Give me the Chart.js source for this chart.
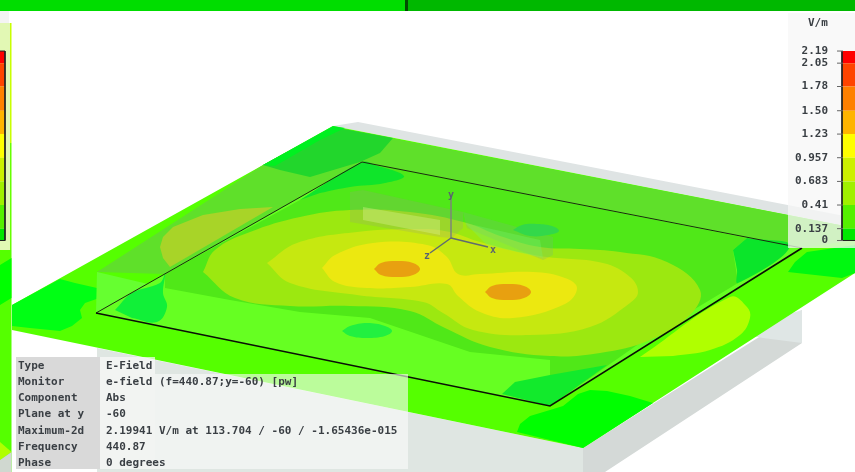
<!DOCTYPE html>
<html>
<head>
<meta charset="utf-8">
<title>E-Field</title>
<script src="https://cdn.jsdelivr.net/npm/chart.js@4"></script>
<style>
  html, body { margin: 0; padding: 0; background: #fff; overflow: hidden; }
  canvas { display: block; filter: blur(0.35px); }
</style>
</head>
<body>
<canvas id="field" width="855" height="472"></canvas>
<script>
// Legend scale (V/m)
const legendValues = [2.19, 2.05, 1.78, 1.50, 1.23, 0.957, 0.683, 0.41, 0.137, 0];
const legendLabels = ['2.19', '2.05', '1.78', '1.50', '1.23', '0.957', '0.683', '0.41', '0.137', '0'];
const legendColors = ['#ff0000', '#ff4400', '#ff8000', '#ffb400', '#ffff00', '#ccf000', '#a0f000', '#55f000', '#00e800'];

// Info table
const infoNames = ['Type', 'Monitor', 'Component', 'Plane at y', 'Maximum-2d', 'Frequency', 'Phase'];
const infoValues = ['E-Field', 'e-field (f=440.87;y=-60) [pw]', 'Abs', '-60',
  '2.19941 V/m at 113.704 / -60 / -1.65436e-015', '440.87', '0 degrees'];

// Block under the plane
const backSliver = [[358,122],[855,218],[855,228],[333,126]];
const frontFace = [[97,348],[583,448],[583,472],[97,472]];
const sideFace = [[583,448],[802,310],[802,343],[605,472],[583,472]];
const sideLight = [[802,310],[802,343],[763,338],[730,332]];

// Plane and its contour regions
const planeBase = [[12,305],[333,126],[855,228],[855,273],[583,448],[12,330]];
const cornerLeft = [[12,305],[60,279],[75,283],[97,288],[112,290],[105,296],[85,303],[80,310],[82,318],[72,326],[60,331],[30,328],[12,326]];
const cornerBottom = [[517,432],[520,424],[530,416],[550,410],[563,406],[578,394],[590,390],[607,391],[630,396],[653,403],[583,448]];
const cornerRight = [[788,272],[795,262],[807,252],[855,245],[855,273],[842,278]];
const limeRight = [[640,357],[730,297],[747,307],[750,318],[740,335],[710,350],[673,356]];
const bandTop = [[97,272],[263,165],[333,127],[855,228],[855,240],[802,248],[362,162],[165,274]];
const cornerTop = [[263,165],[333,127],[393,138],[380,153],[360,162],[310,177],[280,170]];
const rimTop = [[263,165],[333,126],[345,128],[320,140],[275,166]];
const bandCorner = [[97,272],[165,288],[96,313]];
const oliveBand = [[160,247],[163,237],[173,227],[203,215],[240,209],[273,207],[170,267],[163,258]];
const boardBase = [[96,313],[362,162],[802,248],[550,406]];
const boardRight = [[550,358],[650,336],[550,406]];
const patchLeft = [[115,310],[132,293],[160,283],[165,274],[163,293],[167,307],[157,322],[132,318]];
const patchTop = [[300,200],[362,162],[375,165],[404,176],[385,183],[350,187],[320,193]];
const patchRight = [[747,238],[790,246],[738,283],[737,270],[733,250]];
const patchFront = [[502,394],[515,382],[550,375],[607,365],[550,406]];
const blobFront = [[342,331],[350,326],[367,323],[385,326],[392,331],[385,336],[367,338],[350,336],[342,331]];
const contour1 = [[165,288],[230,300],[300,312],[370,318],[420,335],[470,352],[550,360],[600,350],[650,336],[738,283],[733,250],[747,238],[362,162],[300,200],[165,274]];
const contour2 = [[203,272],[215,250],[250,232],[300,217],[350,210],[410,212],[467,223],[500,236],[540,247],[580,249],[620,252],[667,262],[700,290],[690,315],[650,340],[600,353],[550,356],[490,347],[445,328],[410,311],[350,306],[290,306],[235,298],[203,272]];
const contour3 = [[267,263],[297,243],[357,232],[420,229],[450,232],[480,242],[540,256],[603,263],[630,277],[638,292],[630,303],[590,327],[530,335],[473,330],[443,313],[423,302],[357,295],[290,283],[267,263]];
const contour4 = [[322,268],[335,255],[373,243],[427,245],[447,257],[458,274],[480,274],[533,272],[565,278],[577,288],[565,304],[513,318],[480,312],[458,296],[447,284],[410,287],[367,288],[335,282],[322,268]];
const hotA = [[374,269],[381,263],[397,261],[413,263],[420,269],[413,275],[397,277],[381,275],[374,269]];
const hotB = [[485,292],[492,286],[508,284],[524,286],[531,292],[524,298],[508,300],[492,298],[485,292]];

// Translucent part boxes above the plane
const boxLeft = [[350,192],[363,190],[463,212],[463,228],[452,238],[440,237],[350,222]];
const boxLeftBand = [[363,207],[440,220],[440,235],[363,220]];
const boxRight = [[463,212],[553,237],[553,255],[543,260],[467,228]];
const boxRightFace = [[465,223],[540,240],[543,258],[487,245]];
const blobBox = [[513,230],[522,225],[537,224],[552,226],[559,231],[548,235],[530,236],[513,230]];

// Board outline and axes
const boardBack = [[96,313],[362,162],[802,248]];
const boardFront = [[96,313],[550,406],[802,248]];
const axisY = [[451,238],[451,197]];
const axisX = [[451,238],[488,247]];
const axisZ = [[451,238],[430,253]];

// Window furniture
const barLeft = [[0,0],[405,0],[405,11],[0,11]];
const barSplit = [[405,0],[408,0],[408,11],[405,11]];
const barRight = [[408,0],[855,0],[855,11],[408,11]];
const legendPanel = [[788,13],[855,13],[855,248],[788,248]];
const tableNames = [[16,357],[100,357],[100,469],[16,469]];
const tableValuesA = [[100,357],[155,357],[155,469],[100,469]];
const tableValuesB = [[155,374],[408,374],[408,469],[155,469]];
const stripBack = [[0,11],[11.5,11],[11.5,472],[0,472]];
const stripPanel = [[0,23],[10,23],[10,250],[0,250]];
const stripTop = [[0,11],[9,11],[9,23],[0,23]];
const stripEdgeA = [[10,23],[11.5,23],[11.5,143],[10,143]];
const stripEdgeB = [[10,143],[11.5,143],[11.5,250],[10,250]];
const stripGreen = [[0,250],[11.5,250],[11.5,472],[0,472]];
const stripBright = [[0,265],[11.5,258],[11.5,298],[0,305]];
const stripLime = [[0,442],[11.5,452],[0,460]];
const stripGrey = [[0,460],[11.5,452],[11.5,472],[0,472]];

// Build one closed filled region
function region(points, color, curved) {
  return {
    data: points.map(p => ({ x: p[0], y: p[1] })),
    showLine: true,
    fill: 'shape',
    backgroundColor: color,
    borderWidth: 0,
    borderColor: 'transparent',
    pointRadius: 0,
    tension: curved ? 0.4 : 0
  };
}

// Build an open line
function stroke(points, color, width) {
  return {
    data: points.map(p => ({ x: p[0], y: p[1] })),
    showLine: true,
    fill: false,
    borderColor: color,
    borderWidth: width,
    pointRadius: 0,
    tension: 0
  };
}

// Legend colour band between two scale values
function band(x0, x1, v0, v1, color) {
  return {
    yAxisID: 'v',
    data: [{ x: x0, y: v0 }, { x: x1, y: v0 }, { x: x1, y: v1 }, { x: x0, y: v1 }],
    showLine: true,
    fill: 'shape',
    backgroundColor: color,
    borderWidth: 0,
    pointRadius: 0,
    tension: 0
  };
}

const layers = [
  region(barLeft, '#00dd00'),
  region(barSplit, '#004d00'),
  region(barRight, '#00b800'),
  region(backSliver, '#dfe4e4'),
  region(frontFace, '#dfe6e2'),
  region(sideFace, '#d4d9d7'),
  region(sideLight, '#dfe6e5'),
  region(planeBase, '#55ff00'),
  region(cornerLeft, '#00ff14'),
  region(cornerBottom, '#00ff00'),
  region(cornerRight, '#00f810'),
  region(limeRight, '#b0ff00', true),
  region(bandTop, '#5fe02a'),
  region(cornerTop, '#22d62c'),
  region(rimTop, '#00f020'),
  region(bandCorner, '#66ff30'),
  region(oliveBand, '#a8d428'),
  region(boardBase, '#66ff22'),
  region(contour1, '#50e818'),
  region(boardRight, '#50e818'),
  region(patchLeft, '#11f038', true),
  region(patchTop, '#0fe52a', true),
  region(patchRight, '#0be52a', true),
  region(patchFront, '#12ea2c'),
  region(blobFront, '#22f040', true),
  region(contour2, '#9ce810', true),
  region(contour3, '#c6e810', true),
  region(contour4, '#ece810', true),
  region(hotA, '#e8a010', true),
  region(hotB, '#e8a010', true),
  region(boxLeft, 'rgba(150,160,120,0.25)'),
  region(boxLeftBand, 'rgba(215,240,140,0.4)'),
  region(boxRight, 'rgba(120,190,110,0.3)'),
  region(boxRightFace, 'rgba(120,240,110,0.35)'),
  region(blobBox, '#33d84a', true),
  stroke(boardBack, '#1a2a10', 1),
  stroke(boardFront, '#0a0f05', 1.6),
  stroke(axisY, '#7d8478', 1.5),
  stroke(axisX, '#5f6b70', 1.5),
  stroke(axisZ, '#5f6b70', 1.5),
  region(legendPanel, 'rgba(247,247,247,0.75)'),
  region(tableNames, '#d9d9d9'),
  region(tableValuesA, 'rgba(250,250,250,0.7)'),
  region(tableValuesB, 'rgba(250,250,250,0.62)'),
  region(stripBack, '#ffffff'),
  region(stripGreen, '#55ff00'),
  region(stripBright, '#00ff00'),
  region(stripLime, '#b0ff00'),
  region(stripGrey, '#d0d8d0'),
  region(stripTop, '#f4f4f4'),
  region(stripPanel, '#e2f8b4'),
  region(stripEdgeA, '#c8ff00'),
  region(stripEdgeB, '#66ff00')
];

// Colour bars, right legend and left strip
legendColors.forEach((color, i) => {
  layers.push(band(842, 855, legendValues[i], legendValues[i + 1], color));
  layers.push(band(0, 5, legendValues[i], legendValues[i + 1], color));
});
layers.push({
  yAxisID: 'v',
  data: [{ x: 842, y: 2.19 }, { x: 842, y: 0 }, { x: 855, y: 0 }],
  showLine: true, fill: false, borderColor: '#222', borderWidth: 1, pointRadius: 0
});
layers.push({
  yAxisID: 'v',
  data: [{ x: 0, y: 2.19 }, { x: 5, y: 2.19 }, { x: 5, y: 0 }, { x: 0, y: 0 }],
  showLine: true, fill: false, borderColor: '#222', borderWidth: 1, pointRadius: 0
});
// Legend tick marks
layers.push({
  yAxisID: 'v',
  data: legendValues.map(v => ({ x: 840, y: v })),
  showLine: false,
  pointStyle: 'line',
  pointRadius: 3,
  borderColor: '#666',
  borderWidth: 1
});

// Later layers go on top
layers.forEach((ds, i) => { ds.order = layers.length - i; });

// Texts that sit on the picture
const textPlugin = {
  id: 'texts',
  afterDatasetsDraw(chart) {
    const ctx = chart.ctx;
    ctx.save();
    ctx.textBaseline = 'middle';
    ctx.textAlign = 'left';
    ctx.font = 'bold 11px "DejaVu Sans Mono"';
    ctx.fillStyle = '#3a3f44';
    infoNames.forEach((name, i) => {
      const y = 366 + i * 16.2;
      ctx.fillText(name, 18, y);
      ctx.fillText(infoValues[i], 106, y);
    });
    ctx.fillText('V/m', 808, 23);
    ctx.fillStyle = '#5a6470';
    ctx.font = 'bold 10px "DejaVu Sans Mono"';
    ctx.fillText('y', 448, 195);
    ctx.fillText('x', 490, 250);
    ctx.fillText('z', 424, 256);
    ctx.restore();
  }
};

new Chart(document.getElementById('field'), {
  type: 'scatter',
  data: { datasets: layers },
  plugins: [textPlugin],
  options: {
    responsive: false,
    animation: false,
    events: [],
    layout: { padding: 0, autoPadding: false },
    plugins: { legend: { display: false }, tooltip: { enabled: false } },
    scales: {
      x: { type: 'linear', min: 0, max: 855, display: false },
      y: { type: 'linear', min: 0, max: 472, reverse: true, display: false },
      v: {
        type: 'linear',
        min: -2.676,
        max: 2.78,
        position: { x: 828 },
        grid: { display: false },
        border: { display: false },
        afterBuildTicks(scale) {
          scale.ticks = legendValues.map(value => ({ value }));
        },
        // first and last label must not shrink the plot
        afterFit(scale) {
          scale.paddingTop = 0;
          scale.paddingBottom = 0;
        },
        ticks: {
          z: 1,
          autoSkip: false,
          padding: 0,
          color: '#3a3f44',
          font: { family: '"DejaVu Sans Mono"', size: 11, weight: 'bold' },
          callback(value) {
            return legendLabels[legendValues.indexOf(value)];
          }
        }
      }
    }
  }
});
</script>
</body>
</html>
